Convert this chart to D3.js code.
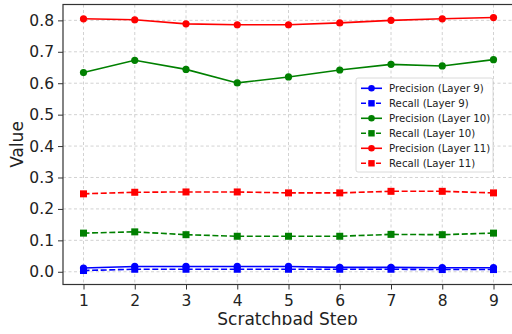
<!DOCTYPE html>
<html>
<head>
<meta charset="utf-8">
<script src="https://cdn.jsdelivr.net/npm/d3@7"></script>
<style>
  html, body { margin: 0; padding: 0; background: #fff; }
  svg { display: block; font-family: "DejaVu Sans", sans-serif; }
</style>
</head>
<body>
<svg id="chart" width="512" height="334"></svg>
<script>
// Scratchpad steps on the x axis
const steps = [1, 2, 3, 4, 5, 6, 7, 8, 9];

// Precision / recall per layer
const precisionL9  = [0.012, 0.017, 0.017, 0.017, 0.017, 0.014, 0.014, 0.013, 0.013];
const recallL9     = [0.004, 0.008, 0.008, 0.008, 0.008, 0.008, 0.008, 0.007, 0.007];
const precisionL10 = [0.634, 0.673, 0.644, 0.601, 0.620, 0.642, 0.660, 0.655, 0.675];
const recallL10    = [0.123, 0.127, 0.118, 0.113, 0.113, 0.113, 0.119, 0.118, 0.123];
const precisionL11 = [0.805, 0.802, 0.789, 0.786, 0.786, 0.792, 0.800, 0.805, 0.809];
const recallL11    = [0.248, 0.253, 0.254, 0.254, 0.251, 0.251, 0.256, 0.256, 0.251];

const yTicks = [0.0, 0.1, 0.2, 0.3, 0.4, 0.5, 0.6, 0.7, 0.8];

const series = [
  { name: "Precision (Layer 9)",  values: precisionL9,  color: "#0000ff", dashed: false, marker: "circle" },
  { name: "Recall (Layer 9)",     values: recallL9,     color: "#0000ff", dashed: true,  marker: "square" },
  { name: "Precision (Layer 10)", values: precisionL10, color: "#008000", dashed: false, marker: "circle" },
  { name: "Recall (Layer 10)",    values: recallL10,    color: "#008000", dashed: true,  marker: "square" },
  { name: "Precision (Layer 11)", values: precisionL11, color: "#ff0000", dashed: false, marker: "circle" },
  { name: "Recall (Layer 11)",    values: recallL11,    color: "#ff0000", dashed: true,  marker: "square" }
];

const svg = d3.select("#chart");
const plot = { left: 63, right: 514, top: 4.5, bottom: 284.5 };

const x = d3.scaleLinear().domain([0.6, 9.4]).range([plot.left, plot.right]);
const y = d3.scaleLinear().domain([-0.0405, 0.8505]).range([plot.bottom, plot.top]);

// The figure is trimmed at the bottom, cutting the x-axis title
svg.append("defs").append("clipPath").attr("id", "figclip")
  .append("rect").attr("x", 0).attr("y", 0).attr("width", 512).attr("height", 325);

// Grid
const grid = svg.append("g").attr("stroke", "#b0b0b0").attr("stroke-width", 0.8)
  .attr("stroke-dasharray", "3,2.5").attr("opacity", 0.7);
grid.selectAll(".gx").data(steps).join("line")
  .attr("x1", d => x(d)).attr("x2", d => x(d))
  .attr("y1", plot.top).attr("y2", plot.bottom);
grid.selectAll(".gy").data(yTicks).join("line")
  .attr("x1", plot.left).attr("x2", plot.right)
  .attr("y1", d => y(d)).attr("y2", d => y(d));

// Series lines and markers
const line = d3.line().x((d, i) => x(steps[i])).y(d => y(d));
series.forEach(s => {
  const g = svg.append("g");
  g.append("path").datum(s.values)
    .attr("d", line).attr("fill", "none")
    .attr("stroke", s.color).attr("stroke-width", 1.6)
    .attr("stroke-dasharray", s.dashed ? "6,2.6" : null);
  if (s.marker === "circle") {
    g.selectAll("circle").data(s.values).join("circle")
      .attr("cx", (d, i) => x(steps[i])).attr("cy", d => y(d))
      .attr("r", 3.6).attr("fill", s.color);
  } else {
    g.selectAll("rect").data(s.values).join("rect")
      .attr("x", (d, i) => x(steps[i]) - 3.5).attr("y", d => y(d) - 3.5)
      .attr("width", 7).attr("height", 7).attr("fill", s.color);
  }
});

// Axes
const xAxis = svg.append("g").attr("transform", `translate(0,${plot.bottom})`)
  .call(d3.axisBottom(x).tickValues(steps).tickFormat(d3.format("d")).tickSize(5).tickSizeOuter(0));
const yAxis = svg.append("g").attr("transform", `translate(${plot.left},0)`)
  .call(d3.axisLeft(y).tickValues(yTicks).tickFormat(d3.format(".1f")).tickSize(5).tickSizeOuter(0));
[xAxis, yAxis].forEach(a => {
  a.select(".domain").remove();
  a.selectAll("line").attr("stroke", "#333").attr("stroke-width", 1);
  a.selectAll("text").attr("fill", "#222").attr("font-size", 15.5)
    .attr("font-family", "DejaVu Sans, sans-serif");
});
xAxis.selectAll("text").attr("dy", "0.88em");
yAxis.selectAll("text").attr("x", -9);

// Frame
svg.append("rect").attr("x", plot.left).attr("y", plot.top)
  .attr("width", plot.right - plot.left).attr("height", plot.bottom - plot.top)
  .attr("fill", "none").attr("stroke", "#333").attr("stroke-width", 1.2);

// Axis titles
svg.append("text").attr("x", (plot.left + plot.right) / 2 - 1).attr("y", 325)
  .attr("clip-path", "url(#figclip)")
  .attr("text-anchor", "middle").attr("font-size", 17).attr("fill", "#222")
  .text("Scratchpad Step");
svg.append("text").attr("transform", `translate(23,${(plot.top + plot.bottom) / 2}) rotate(-90)`)
  .attr("text-anchor", "middle").attr("font-size", 17).attr("fill", "#222")
  .text("Value");

// Legend
const lg = svg.append("g").attr("transform", "translate(356,78)");
lg.append("rect").attr("width", 137).attr("height", 94).attr("rx", 2)
  .attr("fill", "#fff").attr("fill-opacity", 0.85)
  .attr("stroke", "#d0d0d0").attr("stroke-width", 0.8);
series.forEach((s, i) => {
  const row = lg.append("g").attr("transform", `translate(0,${10.3 + i * 15})`);
  row.append("line").attr("x1", 5).attr("x2", 26).attr("y1", 0).attr("y2", 0)
    .attr("stroke", s.color).attr("stroke-width", 1.6)
    .attr("stroke-dasharray", s.dashed ? "5,2.5" : null);
  if (s.marker === "circle") {
    row.append("circle").attr("cx", 15.5).attr("cy", 0).attr("r", 3.3).attr("fill", s.color);
  } else {
    row.append("rect").attr("x", 12.3).attr("y", -3.2).attr("width", 6.4).attr("height", 6.4).attr("fill", s.color);
  }
  row.append("text").attr("x", 33).attr("y", 0).attr("dy", "0.35em")
    .attr("font-size", 10.2).attr("fill", "#222").text(s.name);
});
</script>
</body>
</html>
